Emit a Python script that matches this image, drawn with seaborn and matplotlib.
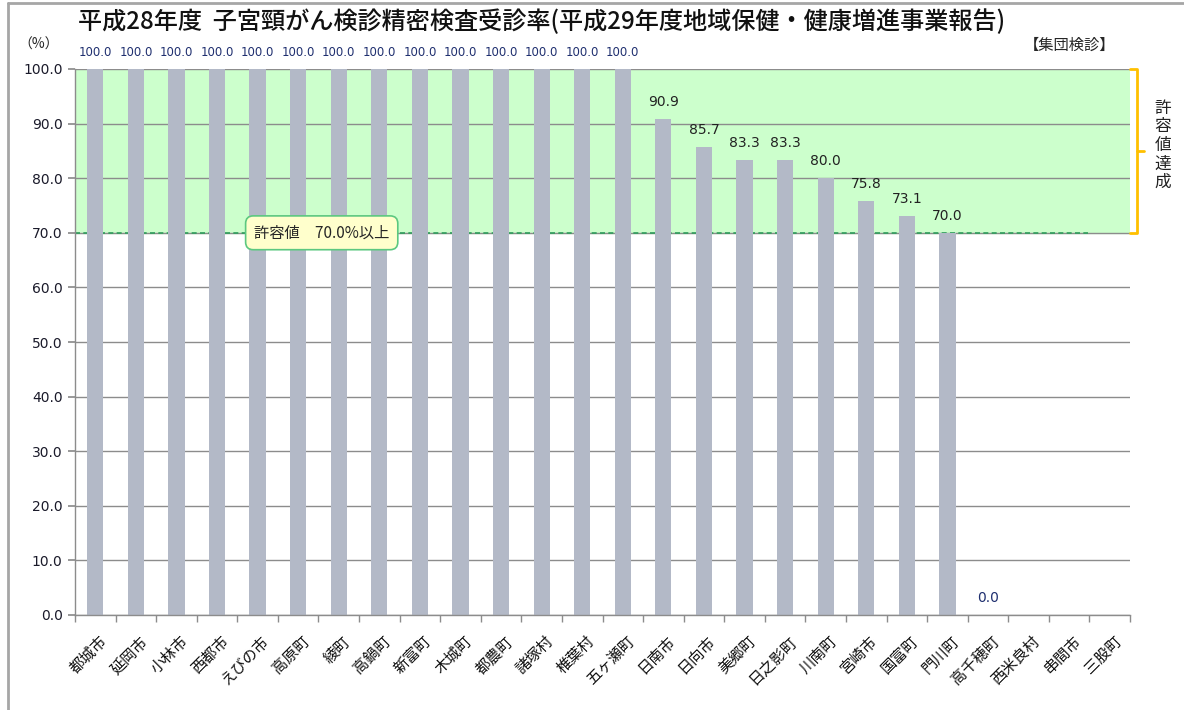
import numpy as np
import pandas as pd
import matplotlib.pyplot as plt
from matplotlib.lines import Line2D
import matplotlib.transforms as mtransforms
import seaborn as sns

# municipalities and rates (%), NaN = no data
towns = ["都城市", "延岡市", "小林市", "西都市", "えびの市", "高原町", "綾町", "高鍋町",
         "新富町", "木城町", "都農町", "諸塚村", "椎葉村", "五ヶ瀬町", "日南市", "日向市",
         "美郷町", "日之影町", "川南町", "宮崎市", "国富町", "門川町", "高千穂町",
         "西米良村", "串間市", "三股町"]
rates = [100.0, 100.0, 100.0, 100.0, 100.0, 100.0, 100.0, 100.0,
         100.0, 100.0, 100.0, 100.0, 100.0, 100.0, 90.9, 85.7,
         83.3, 83.3, 80.0, 75.8, 73.1, 70.0, 0.0,
         np.nan, np.nan, np.nan]
target = 70.0
y_ticks = [0, 10, 20, 30, 40, 50, 60, 70, 80, 90, 100]

title = "平成28年度  子宮頸がん検診精密検査受診率(平成29年度地域保健・健康増進事業報告)"
df = pd.DataFrame({"town": towns, "rate": rates})

sns.set_theme(style="white")
plt.rcParams["font.family"] = ["Noto Sans CJK JP", "DejaVu Sans"]

fig = plt.figure(figsize=(11.84, 7.10), dpi=100)
ax = fig.add_axes([75 / 1184, 1 - 615 / 710, 1055 / 1184, 546 / 710])

# target zone
ax.axhspan(target, 100, color="#CCFFCC", zorder=0)
for t in y_ticks:
    ax.axhline(t, color="#8C8C8C", lw=1, zorder=1)
ax.axhline(target, xmin=0, xmax=0.96, color="#2E9E5B", lw=1.2, ls=(0, (3, 2)), zorder=1.5)

sns.barplot(data=df, x="town", y="rate", order=towns, color="#B3B9C7",
            width=0.4, saturation=1, linewidth=0, ax=ax, zorder=2)

# value labels
for i, v in enumerate(rates):
    if np.isnan(v):
        continue
    inside = target <= v < 100
    ax.annotate(f"{v:.1f}", (i, v), xytext=(0, 7), textcoords="offset points",
                ha="center", va="bottom", fontsize=10 if inside or v == 0 else 8.5,
                color="#222222" if inside else "#1F2F6F",
                family=["DejaVu Sans"], annotation_clip=False, zorder=5)

ax.set_ylim(0, 100)
ax.set_xlim(-0.5, len(towns) - 0.5)
ax.set_yticks(y_ticks)
ax.set_yticklabels([f"{t:.1f}" for t in y_ticks], fontsize=10, color="#1a1a2a",
                   family=["DejaVu Sans"])
ax.tick_params(axis="y", left=True, length=5, color="#8C8C8C", pad=4)
ax.tick_params(axis="x", bottom=False, pad=7)
ax.set_xticks(np.arange(len(towns)) + 0.08)
ax.set_xticklabels(towns, rotation=45, ha="right", rotation_mode="anchor", fontsize=11,
                   color="#111111")
ax.set_xticks(np.arange(len(towns) + 1) - 0.5, minor=True)
ax.tick_params(axis="x", which="minor", bottom=True, length=5, color="#8C8C8C")
ax.set_xlabel("")
ax.set_ylabel("")
for side in ["top", "right"]:
    ax.spines[side].set_visible(False)
for side in ["left", "bottom"]:
    ax.spines[side].set_color("#8C8C8C")
    ax.spines[side].set_linewidth(1)

# target note box
ax.text(5.58, target, "許容値　70.0%以上", ha="center", va="center", fontsize=11,
        zorder=6, bbox=dict(boxstyle="round,pad=0.55,rounding_size=0.5",
                            fc="#FFFFCC", ec="#5CC880", lw=1.2))

# bracket on the right
tr = mtransforms.blended_transform_factory(ax.transAxes, ax.transData)
mid = (target + 100) / 2
ax.plot([1.0, 1.007, 1.007, 1.0], [100, 100, target, target], color="#FFC000",
        lw=2, transform=tr, clip_on=False, solid_joinstyle="round")
ax.plot([1.007, 1.013], [mid, mid], color="#FFC000", lw=2, transform=tr, clip_on=False)
ax.text(1.031, mid + 1, "\n".join("許容値達成"), transform=tr, ha="center", va="center",
        fontsize=12, linespacing=1.12, color="#222222")

fig.text(78 / 1184, 1 - 22 / 710, title, ha="left", va="center", fontsize=17.4,
         color="#111111", fontweight="medium")
fig.text(1115 / 1184, 1 - 45 / 710, "【集団検診】", ha="right", va="center", fontsize=11)
fig.text(18 / 1184, 1 - 45 / 710, "（%）", ha="left", va="center", fontsize=10)

# outer frame
fig.add_artist(Line2D([8 / 1184, 8 / 1184], [0, 1 - 3 / 710], color="#A6A6A6", lw=2,
                      transform=fig.transFigure))
fig.add_artist(Line2D([8 / 1184, 1], [1 - 3 / 710, 1 - 3 / 710], color="#A6A6A6", lw=2,
                      transform=fig.transFigure))

fig.savefig("out.png", dpi=100)
